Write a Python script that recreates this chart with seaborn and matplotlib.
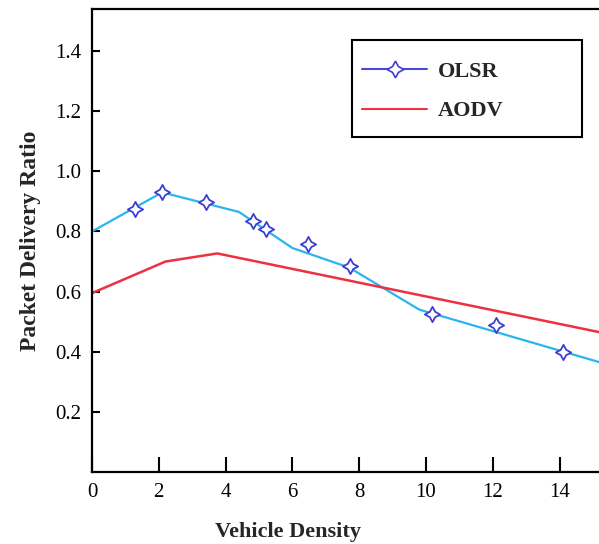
import matplotlib
matplotlib.use("Agg")
import matplotlib.pyplot as plt
import seaborn as sns
import pandas as pd
from matplotlib.lines import Line2D
from matplotlib.patches import Rectangle

# ---- data ----
olsr_line_x = [0.0, 2.1, 4.4, 6.0, 7.7, 9.8, 15.2]
olsr_line_y = [0.80, 0.93, 0.865, 0.745, 0.68, 0.54, 0.365]
olsr_mark_x = [1.3, 2.1, 3.4, 4.82, 5.2, 6.47, 7.72, 10.18, 12.1, 14.1]
olsr_mark_y = [0.875, 0.93, 0.897, 0.834, 0.807, 0.76, 0.685, 0.525, 0.49, 0.40]
aodv_x = [0.0, 2.2, 3.75, 15.2]
aodv_y = [0.595, 0.70, 0.727, 0.465]
x_ticks = [0, 2, 4, 6, 8, 10, 12, 14]
y_ticks = [0.2, 0.4, 0.6, 0.8, 1.0, 1.2, 1.4]
series_names = ["OLSR", "AODV"]
x_label = "Vehicle Density"
y_label = "Packet Delivery Ratio"

sns.set_theme(style="white")
plt.rcParams["font.family"] = ["Liberation Serif", "DejaVu Serif"]

fig = plt.figure(figsize=(5.99, 5.44), dpi=100)
ax = fig.add_axes([92 / 599, 72 / 544, 1 - 92 / 599, (472 - 9) / 544])

line_blue = "#29b5ee"
mark_blue = "#3d3dd0"
red = "#ee3040"

df_o = pd.DataFrame({"x": olsr_line_x, "y": olsr_line_y})
df_m = pd.DataFrame({"x": olsr_mark_x, "y": olsr_mark_y})
df_a = pd.DataFrame({"x": aodv_x, "y": aodv_y})

sns.lineplot(data=df_o, x="x", y="y", ax=ax, color=line_blue, lw=1.6,
             sort=False, estimator=None)
sns.lineplot(data=df_a, x="x", y="y", ax=ax, color=red, lw=1.8,
             sort=False, estimator=None)
sns.scatterplot(data=df_m, x="x", y="y", ax=ax, marker=(4, 1, 0), s=120,
                facecolor="white", edgecolor=mark_blue, linewidth=1.3, zorder=5)

ax.set_xlim(0, 15.18)
ax.set_ylim(0, 1.54)
ax.set_xticks(x_ticks)
ax.set_xticklabels([str(t) for t in x_ticks])
ax.set_yticks(y_ticks)
ax.set_yticklabels([f"{t:.1f}" for t in y_ticks])
ax.tick_params(axis="x", direction="in", length=11, width=1.5, colors="black",
               labelsize=15, pad=8)
ax.tick_params(axis="y", direction="in", length=6, width=1.5, colors="black",
               labelsize=15, pad=8)
ax.tick_params(bottom=True, left=True)

for side in ["left", "bottom", "top"]:
    ax.spines[side].set_color("black")
    ax.spines[side].set_linewidth(1.6)
ax.spines["right"].set_visible(False)

ax.set_xlabel(x_label, fontsize=16, fontweight="bold")
ax.xaxis.set_label_coords(0.387, -0.108)
ax.set_ylabel(y_label, fontsize=17, fontweight="bold", labelpad=10)

# legend frame drawn as a rectangle to match the reference box
ax.add_patch(Rectangle((0.513, 0.7235), 0.966 - 0.513, 0.933 - 0.7235,
                       transform=ax.transAxes, facecolor="white",
                       edgecolor="black", lw=1.5, zorder=6))

handles = [
    Line2D([], [], color="#4a4ad8", lw=1.5, marker=(4, 1, 0), markersize=12,
           markerfacecolor="white", markeredgecolor=mark_blue, markeredgewidth=1.2),
    Line2D([], [], color=red, lw=1.5),
]
leg = ax.legend(handles, series_names, loc="upper left",
                bbox_to_anchor=(0.5325, 0.887), frameon=False,
                borderaxespad=0, borderpad=0, handlelength=2.93,
                handletextpad=0.5, labelspacing=0.85,
                prop={"family": ["Liberation Serif"], "weight": "bold", "size": 16})
leg.set_zorder(7)

fig.savefig("out.png", dpi=100)
